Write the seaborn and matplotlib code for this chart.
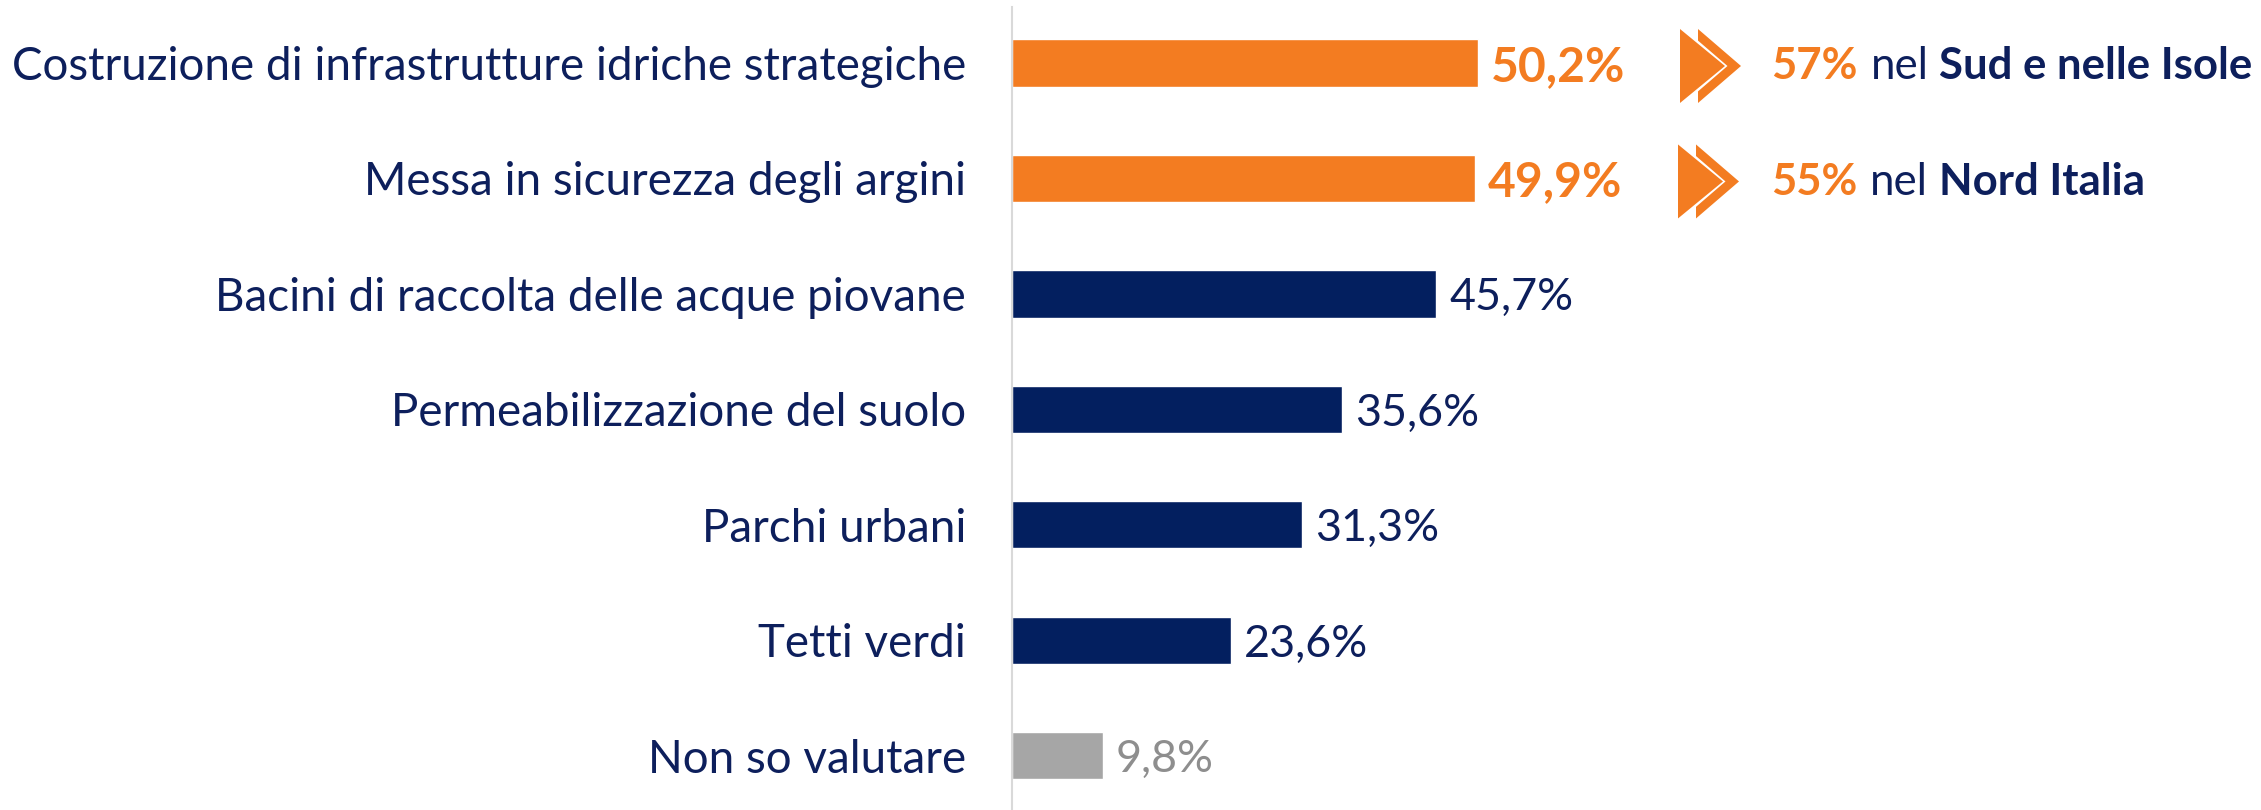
import matplotlib
matplotlib.use("Agg")
import matplotlib.pyplot as plt
import seaborn as sns
import pandas as pd
from matplotlib.patches import Polygon

# ---------------- data ----------------
categories = [
    "Costruzione di infrastrutture idriche strategiche",
    "Messa in sicurezza degli argini",
    "Bacini di raccolta delle acque piovane",
    "Permeabilizzazione del suolo",
    "Parchi urbani",
    "Tetti verdi",
    "Non so valutare",
]
values = [50.2, 49.9, 45.7, 35.6, 31.3, 23.6, 9.8]
value_labels = ["50,2%", "49,9%", "45,7%", "35,6%", "31,3%", "23,6%", "9,8%"]
note_pct = ["57%", "55%"]
note_mid = ["nel", "nel"]
note_area = ["Sud e nelle Isole", "Nord Italia"]

# ---------------- style ----------------
ORANGE = "#F37C21"
NAVY = "#031F5F"
NAVY_TXT = "#0D1F5C"
GREY_BAR = "#A6A6A6"
GREY_TXT = "#8E8E8E"
bar_colors = [ORANGE, ORANGE, NAVY, NAVY, NAVY, NAVY, GREY_BAR]
lab_colors = [ORANGE, ORANGE, NAVY_TXT, NAVY_TXT, NAVY_TXT, NAVY_TXT, GREY_TXT]
lab_weights = ["bold", "bold", "normal", "normal", "normal", "normal", "normal"]

W, H, DPI = 2261, 810, 100
AX_LEFT = 1012
PX_PER_UNIT = 9.28

sns.set_theme(style="white")
plt.rcParams["font.family"] = ["Lato", "DejaVu Sans"]

fig = plt.figure(figsize=(W / DPI, H / DPI), dpi=DPI)
fig.patch.set_facecolor("white")
ax = fig.add_axes([AX_LEFT / W, 0, 1 - AX_LEFT / W, 1 - 7 / H])

df = pd.DataFrame({"cat": categories, "val": values})
sns.barplot(data=df, x="val", y="cat", hue="cat", order=categories,
            hue_order=categories, palette=bar_colors, width=0.41,
            saturation=1, legend=False, orient="h", ax=ax)

ax.set_xlim(0, (W - AX_LEFT) / PX_PER_UNIT)
ax.set_ylim(6.47, -0.485)
ax.set_xlabel("")
ax.set_ylabel("")
ax.set_xticks([])
for s in ["top", "right", "bottom"]:
    ax.spines[s].set_visible(False)
ax.spines["left"].set_color("#D9D9D9")
ax.spines["left"].set_linewidth(1.5)
ax.set_facecolor("white")

FS = 29
ax.tick_params(axis="y", length=0, pad=33, labelsize=FS, labelcolor=NAVY_TXT)

# fit font size to the reference width of the longest label (954 px)
fig.canvas.draw()
r = fig.canvas.get_renderer()
tl = ax.get_yticklabels()[0]
w = tl.get_window_extent(r).width
FS = FS * 954 / w
ax.tick_params(axis="y", labelsize=FS)

# value labels
for i, (v, lab) in enumerate(zip(values, value_labels)):
    fs_i = FS * (1.05 if lab_weights[i] == "bold" else 0.98)
    ax.annotate(lab, xy=(v, i), xytext=(13, 0), textcoords="offset pixels",
                va="center_baseline", ha="left", fontsize=fs_i,
                color=lab_colors[i], fontweight=lab_weights[i])

fig.canvas.draw()
r = fig.canvas.get_renderer()


def frac(x, y_disp):
    return (x / W, y_disp / H)


NOTE_X0 = 1771
NOTE_W = 482
GAP1, GAP2 = 13, 11

# highlight notes with double chevrons
for k in range(2):
    cy = ax.transData.transform((0, k))[1] - 3  # display y (from bottom)
    dx = 0 if k == 0 else -2
    hh = 37
    tri = [(1680 + dx, cy + hh), (1725 + dx, cy), (1680 + dx, cy - hh)]
    chev = [(1698 + dx, cy + hh), (1741 + dx, cy), (1698 + dx, cy - hh),
            (1698 + dx, cy - 25.4), (1727.5 + dx, cy), (1698 + dx, cy + 25.4)]
    for pts in (tri, chev):
        fig.patches.append(Polygon([frac(x, y) for x, y in pts], closed=True,
                                   transform=fig.transFigure, facecolor=ORANGE,
                                   edgecolor="none"))
    ty = cy + 3
    t1 = fig.text(NOTE_X0 / W, ty / H, note_pct[k], fontsize=FS, fontweight="bold",
                  color=ORANGE, va="center_baseline", ha="left")
    t2 = fig.text(0, ty / H, note_mid[k], fontsize=FS, color=NAVY_TXT,
                  va="center_baseline", ha="left")
    t3 = fig.text(0, ty / H, note_area[k], fontsize=FS, fontweight="bold",
                  color=NAVY_TXT, va="center_baseline", ha="left")
    if k == 0:
        ws = [t.get_window_extent(r).width for t in (t1, t2, t3)]
        scale = (NOTE_W - GAP1 - GAP2) / sum(ws)
        FSN = FS * scale
    for t in (t1, t2, t3):
        t.set_fontsize(FSN)
    x1 = t1.get_window_extent(r).x1 + GAP1
    t2.set_x(x1 / W)
    x2 = t2.get_window_extent(r).x1 + GAP2
    t3.set_x(x2 / W)

fig.savefig("out.png", dpi=DPI, facecolor="white")
